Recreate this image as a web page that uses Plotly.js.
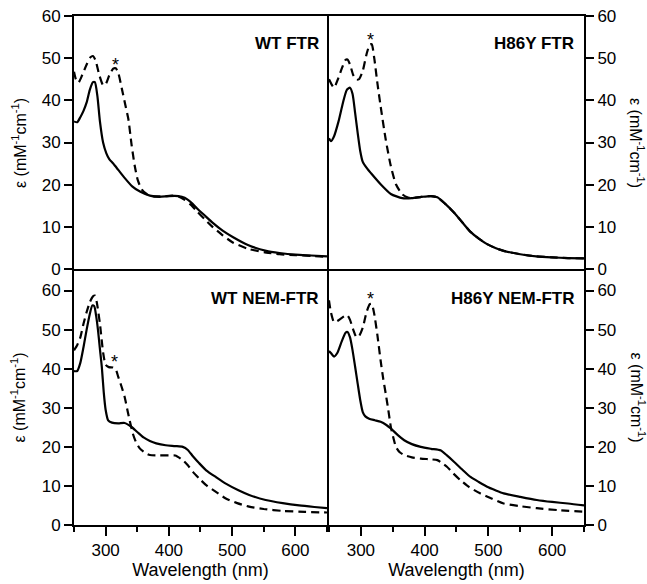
<!DOCTYPE html>
<html>
<head>
<meta charset="utf-8">
<script src="https://cdn.plot.ly/plotly-3.0.1.min.js"></script>
<style>html,body{margin:0;padding:0;background:#fff;}#chart{width:647px;height:584px;}</style>
</head>
<body>
<div id="chart"></div>
<script>
// ---- Data (wavelength nm, epsilon mM^-1 cm^-1) ----
const wtFtrSolidX = [250,255,260,265,270,275,280,283,287,291,296,301,306,312,320,330,342,355,370,385,400,415,425,435,445,456,469,485,501,525,554,575,600,625,650];
const wtFtrSolidY = [35.0,34.8,36.0,37.5,39.5,42.5,44.3,44.3,41,35,30,27.5,26,25,23.5,21.6,19.6,18.3,17.4,17.1,17.3,17.3,16.9,15.8,14.3,12.8,11.0,9.1,7.6,5.7,4.3,3.8,3.4,3.2,3.0];
const wtFtrDashX = [250,253,257,263,270,276,280,284,290,296,300,306,312,316,320,326,331,336,341,346,351,357,365,375,390,405,415,425,435,445,456,469,485,501,525,554,575,600,625,650];
const wtFtrDashY = [46.8,45,44.2,46,48.5,50.2,50.5,49.5,46,43.6,43.8,46,47.5,47.6,46.5,42.5,39,35.5,29.5,24.5,21,18.9,17.8,17.3,17.2,17.4,17.2,16.4,15.2,13.6,11.9,10.0,8.0,6.3,4.8,3.9,3.5,3.3,3.1,2.9];

const h86FtrSolidX = [250,253,258,265,272,278,283,287,291,295,299,303,310,316,331,347,365,380,395,410,420,432,446,460,472,485,498,511,524,550,575,600,625,650];
const h86FtrSolidY = [31,30.3,31.5,35,39.5,42.5,43,41.5,37,32.3,28,25.4,23.8,22.7,20.1,17.8,16.8,16.8,17.1,17.3,17,15.5,13.4,10.9,8.8,7.2,5.9,5.0,4.3,3.5,3.0,2.75,2.6,2.5];
const h86FtrDashX = [250,254,258,264,270,276,279,283,288,293,297,303,309,314,317,321,326,331,339,347,355,365,375,380,395,410,420,432,446,460,472,485,498,511,524,550,575,600,625,650];
const h86FtrDashY = [45,43.8,43,45,47.5,49.6,49.7,48.5,46,44.9,45,47,51,53.2,53.3,50,44,38.6,30.7,24.4,20.1,17.7,16.9,16.8,17.1,17.3,17,15.5,13.4,10.9,8.8,7.2,5.9,5.0,4.3,3.5,3.0,2.75,2.6,2.5];

const wtNemSolidX = [250,255,260,265,270,275,279,282,285,288,291,294,297,300,304,310,320,330,340,350,360,370,380,395,410,422,430,438,448,459,475,490,510,527,553,580,606,630,650];
const wtNemSolidY = [39.4,39.4,41.5,45.5,50,54,56.2,56,53.5,49.8,45,40.4,34,29.5,26.8,26.2,26,26.1,25.2,23.8,22.4,21.5,20.9,20.4,20.2,20.0,19.2,17.6,15.8,14,12.2,10.6,8.9,7.7,6.4,5.6,5.0,4.6,4.3];
const wtNemDashX = [250,255,260,265,270,275,280,283,286,291,296,300,305,312,316,320,325,330,335,338,343,348,354,362,370,385,400,410,422,430,438,448,459,475,490,508,527,550,580,615,650];
const wtNemDashY = [44.7,46,48,51.5,54.5,57,58.5,58.7,57,51.5,44.2,41,40.4,40.3,39.8,37.9,35.5,32.8,29,26.8,23.4,21.2,19.6,18.5,17.9,17.8,17.8,17.8,16.6,15.3,13.6,11.9,10.2,8.4,6.8,5.6,4.7,4.1,3.6,3.35,3.2];

const h86NemSolidX = [250,253,258,263,270,276,279,283,287,291,295,299,303,307,313,322,331,340,347,358,368,380,394,410,425,435,446,459,472,485,498,511,524,550,576,600,625,650];
const h86NemSolidY = [44.5,44,43.1,44,47,49.2,49.4,48,44.7,40.5,36.2,32,28.9,27.8,27.2,26.8,26.4,25.6,24.7,23,21.7,20.7,20,19.5,19.1,17.8,16.2,14.2,12.3,11,9.8,8.9,8.1,7.2,6.4,5.9,5.5,5.0];
const h86NemDashX = [250,253,258,263,270,276,279,283,288,293,297,303,309,314,317,321,326,331,335,339,343,347,351,355,361,368,380,394,410,420,428,435,445,456,470,487,505,524,550,576,610,650];
const h86NemDashY = [57.5,54.5,51.9,52.2,53,53.6,53.6,52.5,50,48.1,48.3,50.5,54.5,56.5,56.6,54,48.5,42.1,37.5,33.6,29.5,25.1,22.3,20,18.6,17.9,17.3,17,16.8,16.6,15.8,14.9,13.2,11.5,9.7,8.1,6.8,5.5,4.8,4.3,3.8,3.4];

const panelLabels = ['WT FTR','H86Y FTR','WT NEM-FTR','H86Y NEM-FTR'];
const starX = [315, 315, 314, 315];
const starY = [49.6, 55.5, 43, 59.2];
const xTickVals = [300,400,500,600];
const yTitle = 'ε (mM<sup>-1</sup>cm<sup>-1</sup>)';
const xTitle = 'Wavelength (nm)';

// ---- Build ----
const FONT = 'Liberation Sans, Arial, sans-serif';
const axes = [['x','y'],['x2','y2'],['x3','y3'],['x4','y4']];
const series = [
  [wtFtrSolidX, wtFtrSolidY, wtFtrDashX, wtFtrDashY],
  [h86FtrSolidX, h86FtrSolidY, h86FtrDashX, h86FtrDashY],
  [wtNemSolidX, wtNemSolidY, wtNemDashX, wtNemDashY],
  [h86NemSolidX, h86NemSolidY, h86NemDashX, h86NemDashY]
];
const traces = [];
series.forEach((s, i) => {
  traces.push({x: s[2], y: s[3], xaxis: axes[i][0], yaxis: axes[i][1], mode: 'lines',
    line: {color: '#000', width: 2.2, dash: '8px,5px', shape: 'spline', smoothing: 0.6}, hoverinfo: 'skip'});
  traces.push({x: s[0], y: s[1], xaxis: axes[i][0], yaxis: axes[i][1], mode: 'lines',
    line: {color: '#000', width: 2.2, shape: 'spline', smoothing: 0.6}, hoverinfo: 'skip'});
});

const W = 510, H = 509;
const split = 0.498;
const ysplit = 0.501;
const dx = 1 / W, dy = 1 / H;
function xa(domain, anchor, bottom) {
  const a = {domain: domain, anchor: anchor, range: [250, 650], showgrid: false, zeroline: false,
    showline: true, mirror: true, linewidth: 2, linecolor: '#000', fixedrange: true};
  if (bottom) {
    Object.assign(a, {ticks: 'outside', ticklen: 9, tickwidth: 2, tickcolor: '#000', tickvals: xTickVals,
      minor: {dtick: 50, tick0: 0, ticks: 'outside', ticklen: 5, tickwidth: 2, tickcolor: '#000'},
      tickfont: {family: FONT, size: 17, color: '#000'},
      title: {text: xTitle, font: {family: FONT, size: 18, color: '#000'}, standoff: 1}});
  } else {
    Object.assign(a, {ticks: '', showticklabels: false});
  }
  return a;
}
function ya(domain, anchor, side, top) {
  return {domain: domain, anchor: anchor, side: side, range: top ? [0, 60] : [0, 65], tick0: 0, dtick: 10,
    showgrid: false, zeroline: false, showline: true, mirror: true, linewidth: 2, linecolor: '#000',
    ticks: 'outside', ticklen: 8, tickwidth: 2, tickcolor: '#000',
    tickfont: {family: FONT, size: 17, color: '#000'}, fixedrange: true};
}

const annotations = [];
const labelPos = [
  {xref: 'x domain', yref: 'y domain'}, {xref: 'x2 domain', yref: 'y2 domain'},
  {xref: 'x3 domain', yref: 'y3 domain'}, {xref: 'x4 domain', yref: 'y4 domain'}
];
panelLabels.forEach((t, i) => {
  annotations.push({text: '<b>' + t + '</b>', xref: labelPos[i].xref, yref: labelPos[i].yref,
    x: 1, y: 1, xanchor: 'right', yanchor: 'top', xshift: i % 2 ? -8 : -6, yshift: -16, showarrow: false,
    font: {family: FONT, size: 17, color: '#000'}});
  annotations.push({text: '*', xref: axes[i][0], yref: axes[i][1], x: starX[i], y: starY[i],
    showarrow: false, font: {family: FONT, size: 18, color: '#000'}, yshift: -5});
});
// y titles
[[1 - (1 - ysplit) / 2, -90, 0, -55], [ysplit / 2, -90, 0, -55], [1 - (1 - ysplit) / 2, 90, 1, 53], [ysplit / 2, 90, 1, 53]].forEach(p => {
  annotations.push({text: yTitle, xref: 'paper', yref: 'paper', x: p[2], y: p[0], textangle: p[1],
    xanchor: 'center', yanchor: 'middle', xshift: p[3], showarrow: false,
    font: {family: FONT, size: 16, color: '#000'}});
});

const layout = {
  width: 647, height: 584, margin: {l: 74, r: 63, t: 16, b: 59},
  paper_bgcolor: '#fff', plot_bgcolor: '#fff', showlegend: false,
  xaxis: xa([0, split - dx], 'y', false),
  xaxis2: xa([split + dx, 1], 'y2', false),
  xaxis3: xa([0, split - dx], 'y3', true),
  xaxis4: xa([split + dx, 1], 'y4', true),
  yaxis: ya([ysplit + dy, 1], 'x', 'left', true),
  yaxis2: ya([ysplit + dy, 1], 'x2', 'right', true),
  yaxis3: ya([0, ysplit - dy], 'x3', 'left', false),
  yaxis4: ya([0, ysplit - dy], 'x4', 'right', false),
  annotations: annotations
};
Plotly.newPlot('chart', traces, layout, {staticPlot: true, displayModeBar: false});
</script>
</body>
</html>
